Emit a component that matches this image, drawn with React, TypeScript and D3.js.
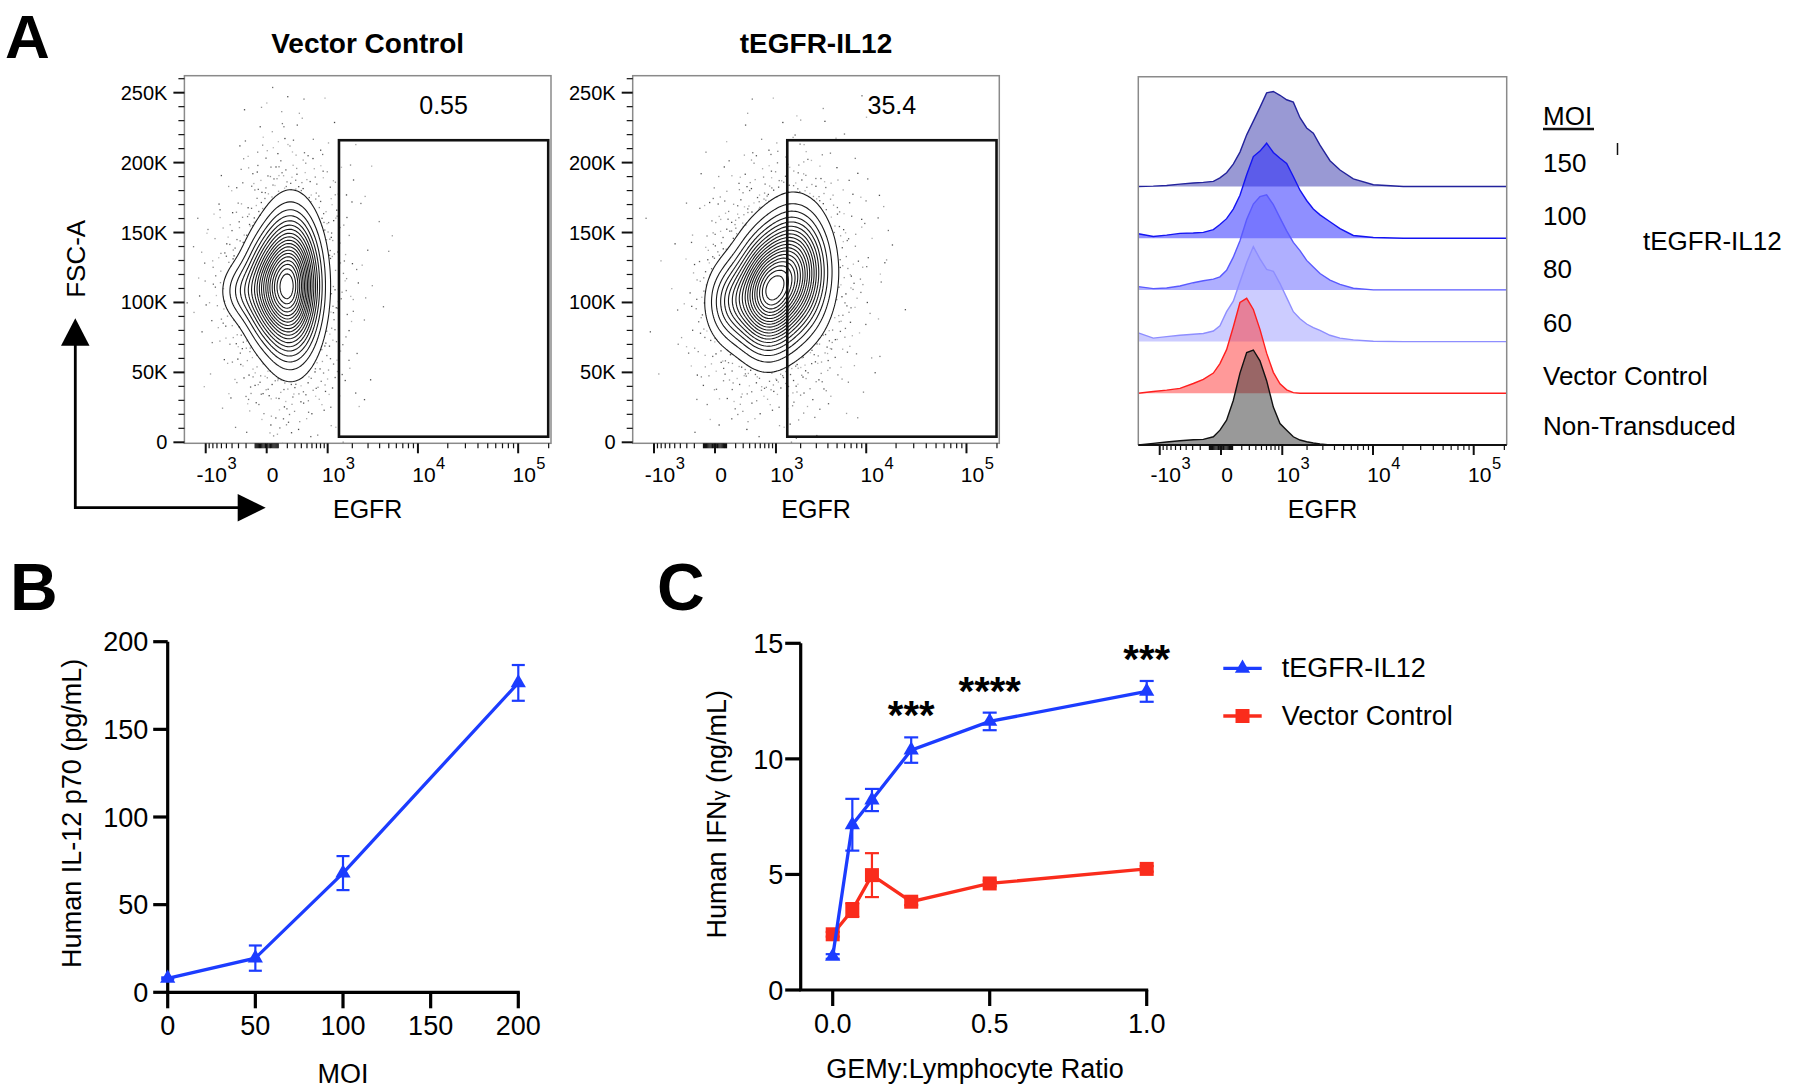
import React from "react";
import * as d3 from "d3";

const FONT = "'Liberation Sans', Arial, Helvetica, sans-serif";

// ---------------- Panel A : axes ----------------
const SYM_C = 335;
const EGFR_DOMAIN = [-1830, 210900];
const FSC_MAX = 262144;
const FSC_TICKS = [0, 50000, 100000, 150000, 200000, 250000];
const FSC_TICK_LABELS = ["0", "50K", "100K", "150K", "200K", "250K"];
const EGFR_TICKS = [-1000, 0, 1000, 10000, 100000];
const EGFR_TICK_BASE = ["-10", "0", "10", "10", "10"];
const EGFR_TICK_EXP = ["3", "", "3", "4", "5"];

// gates
const GATE_EGFR = [1390, 198000];
const GATE_FSC = [4000, 216000];
const GATE_PERCENT = ["0.55", "35.4"];
const CONTOUR_TITLES = ["Vector Control", "tEGFR-IL12"];

// population density components (EGFR value, FSC value, spread in biex units / FSC units)
const VC_EGFR = [246, 0, -275];
const VC_FSC = [112000, 110000, 108000];
const VC_EGFR_SD = [0.38, 0.35, 0.3];
const VC_FSC_SD = [29000, 22000, 13000];
const VC_WEIGHT = [1, 0.4, 0.13];

const IL12_EGFR = [723, 1700, 140];
const IL12_FSC = [105000, 122000, 100000];
const IL12_EGFR_SD = [0.42, 0.46, 0.35];
const IL12_FSC_SD = [24000, 26000, 18000];
const IL12_WEIGHT = [1, 0.85, 0.3];

// histograms (modal %, read at EGFR bins)
const HIST_EGFR = [-1830, -1209, -807, -511, -291, -164, -63, -8, 45, 107, 179, 263, 360, 472, 603, 756, 933, 1139, 1378, 1656, 1980, 2355, 2792, 3584, 4577, 6299, 10084, 20170, 210000];
const HIST_MOI150 = [0, 1, 3, 7, 10, 12, 15, 25, 40, 65, 100, 150, 190, 230, 272, 276, 265, 252, 245, 200, 170, 155, 120, 75, 48, 22, 5, 0, 0];
const HIST_MOI100 = [13, 5, 9, 14, 15, 17, 25, 40, 57, 85, 125, 185, 238, 254, 277, 250, 233, 218, 180, 140, 110, 85, 68, 48, 28, 8, 2, 0, 0];
const HIST_MOI80 = [10, 4, 6, 12, 22, 28, 33, 40, 60, 100, 150, 215, 262, 285, 290, 260, 220, 180, 145, 120, 90, 70, 50, 30, 17, 5, 0, 0, 0];
const HIST_MOI60 = [25, 10, 14, 18, 21, 23, 30, 45, 85, 115, 170, 225, 270, 235, 205, 200, 165, 125, 85, 65, 50, 40, 32, 18, 10, 5, 1, 0, 0];
const HIST_VC = [0, 5, 9, 14, 28, 40, 58, 85, 125, 190, 260, 272, 240, 183, 115, 60, 27, 10, 2, 0, 0, 0, 0, 0, 0, 0, 0, 0, 0];
const HIST_NT = [0, 5, 9, 13, 16, 17, 25, 45, 75, 135, 218, 280, 288, 255, 195, 115, 65, 45, 25, 15, 10, 6, 3, 0, 0, 0, 0, 0, 0];
const HIST_LABELS = ["150", "100", "80", "60", "Vector Control", "Non-Transduced"];

// ---------------- Panel B ----------------
const B_MOI = [0, 50, 100, 200];
const B_IL12 = [8.0, 19.5, 68.0, 176.5];
const B_SEM = [0.5, 7.2, 9.7, 10.2];
const B_X_TICKS = [0, 50, 100, 150, 200];
const B_Y_TICKS = [0, 50, 100, 150, 200];

// ---------------- Panel C ----------------
const C_RATIO = [0, 0.0625, 0.125, 0.25, 0.5, 1.0];
const C_IL12_MEAN = [1.45, 7.15, 8.22, 10.38, 11.62, 12.92];
const C_IL12_SEM = [0.1, 1.12, 0.48, 0.55, 0.38, 0.45];
const C_VC_MEAN = [2.41, 3.46, 4.97, 3.82, 4.61, 5.24];
const C_VC_SEM = [0.1, 0.3, 0.95, 0.15, 0.12, 0.12];
const C_STARS = ["", "", "", "***", "****", "***"];
const C_X_TICKS = [0, 0.5, 1.0];
const C_X_LABELS = ["0.0", "0.5", "1.0"];
const C_Y_TICKS = [0, 5, 10, 15];
const C_LEGEND = ["tEGFR-IL12", "Vector Control"];

// ---------------- styles ----------------
const BLUE = "#1c3cff";
const RED = "#fa2c1c";
const HIST_STROKE = ["#23239c", "#1414f2", "#5a5aff", "#8e8eff", "#ff1e1e", "#111111"];
const HIST_FILL = ["#3333aa", "#2020ff", "#6060ff", "#9a9aff", "#ff3434", "#333333"];

const tr = (v: number) => Math.sign(v) * Math.log1p(Math.abs(v) / SYM_C);
function halton(i: number, b: number) {
  let f = 1, r = 0;
  while (i > 0) { f /= b; r += f * (i % b); i = Math.floor(i / b); }
  return r;
}
const CW: Record<string, number> = { "-": 0.333, ".": 0.278, K: 0.667 };
const textW = (s: string, size: number) => s.split("").reduce((a, c) => a + (CW[c] ?? 0.556), 0) * size;

const egfrMinor = [
  ...d3.range(-900, -99, 100), ...d3.range(-90, 0, 10), ...d3.range(10, 100, 10),
  ...d3.range(100, 1000, 100), ...d3.range(2000, 10000, 1000), ...d3.range(20000, 100000, 10000), 200000,
];
const fscMinor = d3.range(10000, 261000, 10000).filter((v) => v % 50000 !== 0);

function LogLabel({ x, y, base, exp }: { x: number; y: number; base: string; exp: string }) {
  const cx = x + 6;
  const fs = 21;
  const bw = textW(base, fs);
  return (
    <g>
      <text x={cx} y={y} fontSize={fs} textAnchor="middle">{base}</text>
      {exp && <text x={cx + bw / 2 + 0.5} y={y - 13} fontSize={16.5}>{exp}</text>}
    </g>
  );
}

function EgfrAxis({ xS, y }: { xS: any; y: number }) {
  return (
    <g>
      {egfrMinor.map((v, i) => (
        <line key={"m" + i} x1={xS(v)} x2={xS(v)} y1={y} y2={y + 5} stroke="#111" strokeWidth={1.2} />
      ))}
      {EGFR_TICKS.map((v, i) => (
        <line key={"M" + i} x1={xS(v)} x2={xS(v)} y1={y} y2={y + 10} stroke="#111" strokeWidth={2} />
      ))}
      {EGFR_TICKS.map((v, i) => (
        <LogLabel key={"L" + i} x={xS(v)} y={482} base={EGFR_TICK_BASE[i]} exp={EGFR_TICK_EXP[i]} />
      ))}
    </g>
  );
}

function ContourPlot(props: {
  id: string; x0: number; y0: number; w: number; h: number;
  egfr: number[]; fsc: number[]; egfrSd: number[]; fscSd: number[]; weight: number[];
  title: string; pct: string;
}) {
  const { id, x0, y0, w, h, egfr, fsc, egfrSd, fscSd, weight, title, pct } = props;
  const xS = d3.scaleSymlog().constant(SYM_C).domain(EGFR_DOMAIN).range([x0, x0 + w]);
  const yS = d3.scaleLinear().domain([0, FSC_MAX]).range([y0 + h - 1, y0]);
  const tc = egfr.map(tr);
  const dens = (t: number, f: number, k = 1) => {
    let s = 0;
    for (let c = 0; c < tc.length; c++) {
      const a = (t - tc[c]) / (egfrSd[c] * k);
      const b = (f - fsc[c]) / (fscSd[c] * k);
      s += weight[c] * Math.exp(-0.5 * (a * a + b * b));
    }
    return s;
  };
  const step = 2;
  const nx = Math.ceil(w / step), ny = Math.ceil(h / step);
  const colT = d3.range(nx).map((i) => tr(xS.invert(x0 + (i + 0.5) * step)));
  const rowF = d3.range(ny).map((j) => yS.invert(y0 + (j + 0.5) * step));
  const vals = new Array(nx * ny);
  let maxB = 0;
  for (let j = 0; j < ny; j++) for (let i = 0; i < nx; i++) {
    vals[j * nx + i] = dens(colT[i], rowF[j]);
    const b = dens(colT[i], rowF[j], 1.8);
    if (b > maxB) maxB = b;
  }
  const sorted = vals.slice().sort((a, b) => b - a);
  const total = d3.sum(sorted);
  const levels: number[] = [];
  let cum = 0, q = 1;
  for (let i = 0; i < sorted.length && q <= 19; i++) {
    cum += sorted[i];
    while (q <= 19 && cum / total >= q * 0.05) { levels.push(sorted[i]); q++; }
  }
  const contours = d3.contours().size([nx, ny]).thresholds(levels.slice().sort((a, b) => a - b))(vals);
  const proj = d3.geoTransform({
    point(x: number, y: number) { (this as any).stream.point(x0 + x * step, y0 + y * step); },
  });
  const path = d3.geoPath(proj as any);
  const outer = d3.min(levels) as number;
  const dots: [number, number, number][] = [];
  for (let i = 1; i <= 16000; i++) {
    const px = x0 + halton(i, 2) * w;
    const py = y0 + halton(i, 3) * h;
    const t = tr(xS.invert(px));
    const f = yS.invert(py);
    if (dens(t, f) >= outer) continue;
    const b = dens(t, f, 1.8) / maxB;
    if (halton(i, 5) < b * 0.8) dots.push([px, py, halton(i, 7)]);
  }
  const gx0 = xS(GATE_EGFR[0]), gx1 = xS(GATE_EGFR[1]);
  const gy0 = yS(GATE_FSC[1]), gy1 = yS(GATE_FSC[0]);
  return (
    <g>
      <defs>
        <clipPath id={id}><rect x={x0} y={y0} width={w} height={h} /></clipPath>
      </defs>
      <text x={x0 + w / 2} y={y0 - 22.3} fontSize={28} fontWeight="bold" textAnchor="middle">{title}</text>
      <g clipPath={`url(#${id})`}>
        {dots.map((d, i) => (
          <rect key={i} x={d[0]} y={d[1]} width={1.3} height={1.3} fill="#222" opacity={0.3 + 0.55 * d[2]} />
        ))}
        {contours.map((c, i) => (
          <path key={i} d={path(c as any) || ""} fill="none" stroke="#1a1a1a" strokeWidth={1.1} />
        ))}
      </g>
      <rect x={x0} y={y0} width={w} height={h} fill="none" stroke="#8a8a8a" strokeWidth={1.5} />
      <rect x={gx0} y={gy0} width={gx1 - gx0} height={gy1 - gy0} fill="none" stroke="#111" strokeWidth={2.6} />
      <text x={(gx0 + gx1) / 2} y={gy0 - 26} fontSize={25} textAnchor="middle">{pct}</text>
      {fscMinor.map((v, i) => (
        <line key={"fm" + i} x1={x0 - 6} x2={x0} y1={yS(v)} y2={yS(v)} stroke="#111" strokeWidth={1.2} />
      ))}
      {FSC_TICKS.map((v, i) => (
        <g key={"ft" + i}>
          <line x1={x0 - 11} x2={x0} y1={yS(v)} y2={yS(v)} stroke="#111" strokeWidth={2} />
          <text x={x0 - 17} y={yS(v) + 7} fontSize={20} textAnchor="end">{FSC_TICK_LABELS[i]}</text>
        </g>
      ))}
      <EgfrAxis xS={xS} y={y0 + h} />
      <text x={x0 + w / 2} y={518} fontSize={25} textAnchor="middle">EGFR</text>
    </g>
  );
}

function Histograms() {
  const x0 = 1138.3, x1 = 1506.7, top = 76.7, bottom = 445;
  const xS = d3.scaleSymlog().constant(SYM_C).domain(EGFR_DOMAIN).range([x0, x1]);
  const series = [HIST_MOI150, HIST_MOI100, HIST_MOI80, HIST_MOI60, HIST_VC, HIST_NT];
  const spacing = 51.7, peakH = 95;
  const labelY = [171.7, 225, 278.3, 331.7, 385, 435];
  return (
    <g>
      {series.map((s, k) => {
        const base = bottom - (series.length - 1 - k) * spacing;
        const m = d3.max(s) as number;
        const pts = HIST_EGFR.map((e, i) => [xS(e), base - (s[i] / m) * peakH] as [number, number]);
        const area = d3.area<[number, number]>().x((d) => d[0]).y0(base).y1((d) => d[1])(pts) || "";
        const line = d3.line()(pts) || "";
        return (
          <g key={k}>
            <path d={area} fill={HIST_FILL[k]} fillOpacity={0.5} />
            <path d={line} fill="none" stroke={HIST_STROKE[k]} strokeWidth={1.4} />
          </g>
        );
      })}
      <path d={`M${x0},${bottom}V${top}H${x1}V${bottom}`} fill="none" stroke="#8a8a8a" strokeWidth={1.5} />
      <line x1={x0} x2={x1} y1={bottom} y2={bottom} stroke="#111" strokeWidth={2} />
      <EgfrAxis xS={xS} y={bottom} />
      <text x={(x0 + x1) / 2} y={518} fontSize={25} textAnchor="middle">EGFR</text>
      <text x={1543} y={125} fontSize={26}>MOI</text>
      <line x1={1543} x2={1594} y1={129} y2={129} stroke="#111" strokeWidth={2.6} />
      <line x1={1617.5} x2={1617.5} y1={143} y2={155} stroke="#111" strokeWidth={1.5} />
      {HIST_LABELS.map((l, i) => (
        <text key={i} x={1543} y={labelY[i]} fontSize={26}>{l}</text>
      ))}
      <text x={1643} y={250} fontSize={26}>tEGFR-IL12</text>
    </g>
  );
}

function PanelB() {
  const xS = d3.scaleLinear().domain([0, 200]).range([167.7, 518.3]);
  const yS = d3.scaleLinear().domain([0, 200]).range([992.3, 641.7]);
  const pts = B_MOI.map((m, i) => [xS(m), yS(B_IL12[i])] as [number, number]);
  const tri = d3.symbol(d3.symbolTriangle, 100)() || "";
  return (
    <g>
      <line x1={xS(0)} x2={xS(0)} y1={yS(200)} y2={yS(0)} stroke="#000" strokeWidth={3.2} />
      <line x1={xS(0) - 1.5} x2={xS(200) + 1.5} y1={yS(0)} y2={yS(0)} stroke="#000" strokeWidth={3.2} />
      {B_X_TICKS.map((v, i) => (
        <g key={"x" + i}>
          <line x1={xS(v)} x2={xS(v)} y1={yS(0)} y2={yS(0) + 16} stroke="#000" strokeWidth={3.2} />
          <text x={xS(v)} y={1035} fontSize={27} textAnchor="middle">{v}</text>
        </g>
      ))}
      {B_Y_TICKS.map((v, i) => (
        <g key={"y" + i}>
          <line x1={xS(0) - 14.5} x2={xS(0)} y1={yS(v)} y2={yS(v)} stroke="#000" strokeWidth={3.2} />
          <text x={xS(0) - 19.5} y={yS(v) + 9.7} fontSize={27} textAnchor="end">{v}</text>
        </g>
      ))}
      <path d={d3.line()(pts) || ""} fill="none" stroke={BLUE} strokeWidth={3.3} />
      {B_MOI.map((m, i) => {
        const x = xS(m), yt = yS(B_IL12[i] + B_SEM[i]), yb = yS(B_IL12[i] - B_SEM[i]);
        return (
          <g key={"e" + i} stroke={BLUE} strokeWidth={2.2}>
            <line x1={x} x2={x} y1={yt} y2={yb} />
            <line x1={x - 6.5} x2={x + 6.5} y1={yt} y2={yt} />
            <line x1={x - 6.5} x2={x + 6.5} y1={yb} y2={yb} />
          </g>
        );
      })}
      {pts.map((p, i) => (
        <path key={"m" + i} d={tri} transform={`translate(${p[0]},${p[1]})`} fill={BLUE} />
      ))}
      <text x={xS(100)} y={1083} fontSize={27} textAnchor="middle">MOI</text>
      <text transform="translate(81,813.3) rotate(-90)" fontSize={27} textAnchor="middle">Human IL-12 p70 (pg/mL)</text>
    </g>
  );
}

function PanelC() {
  const xS = d3.scaleLinear().domain([-0.1, 1.0]).range([801.3, 1146.7]);
  const yS = d3.scaleLinear().domain([0, 15]).range([990, 643.3]);
  const tri = d3.symbol(d3.symbolTriangle, 100)() || "";
  const sq = d3.symbol(d3.symbolSquare, 196)() || "";
  const series = [
    { mean: C_VC_MEAN, sem: C_VC_SEM, color: RED, marker: sq },
    { mean: C_IL12_MEAN, sem: C_IL12_SEM, color: BLUE, marker: tri },
  ];
  const axX = 800.7;
  return (
    <g>
      <line x1={axX} x2={axX} y1={yS(15)} y2={yS(0)} stroke="#000" strokeWidth={3.2} />
      <line x1={axX - 1.5} x2={xS(1.0) + 1.5} y1={yS(0)} y2={yS(0)} stroke="#000" strokeWidth={3.2} />
      {C_X_TICKS.map((v, i) => (
        <g key={"x" + i}>
          <line x1={xS(v)} x2={xS(v)} y1={yS(0)} y2={yS(0) + 16} stroke="#000" strokeWidth={3.2} />
          <text x={xS(v)} y={1033.3} fontSize={27} textAnchor="middle">{C_X_LABELS[i]}</text>
        </g>
      ))}
      {C_Y_TICKS.map((v, i) => (
        <g key={"y" + i}>
          <line x1={axX - 15.5} x2={axX} y1={yS(v)} y2={yS(v)} stroke="#000" strokeWidth={3.2} />
          <text x={axX - 17.5} y={yS(v) + 9.7} fontSize={27} textAnchor="end">{v}</text>
        </g>
      ))}
      {series.map((s, k) => {
        const pts = C_RATIO.map((r, i) => [xS(r), yS(s.mean[i])] as [number, number]);
        return (
          <g key={k}>
            {C_RATIO.map((r, i) => {
              const x = xS(r), yt = yS(s.mean[i] + s.sem[i]), yb = yS(s.mean[i] - s.sem[i]);
              return (
                <g key={"e" + i} stroke={s.color} strokeWidth={2.2}>
                  <line x1={x} x2={x} y1={yt} y2={yb} />
                  <line x1={x - 7} x2={x + 7} y1={yt} y2={yt} />
                  <line x1={x - 7} x2={x + 7} y1={yb} y2={yb} />
                </g>
              );
            })}
            <path d={d3.line()(pts) || ""} fill="none" stroke={s.color} strokeWidth={3.3} />
            {pts.map((p, i) => (
              <path key={"m" + i} d={s.marker} transform={`translate(${p[0]},${p[1]})`} fill={s.color} />
            ))}
          </g>
        );
      })}
      {C_RATIO.map((r, i) =>
        C_STARS[i] ? (
          <text key={"s" + i} x={xS(r)} y={yS(C_IL12_MEAN[i] + C_IL12_SEM[i]) - 8} fontSize={40} fontWeight="bold" textAnchor="middle">
            {C_STARS[i]}
          </text>
        ) : null
      )}
      <text x={975} y={1078.3} fontSize={27} textAnchor="middle">GEMy:Lymphocyte Ratio</text>
      <text transform="translate(726,814.2) rotate(-90)" fontSize={27} textAnchor="middle">
        Human IFN<tspan fontSize={20}>γ</tspan> (ng/mL)
      </text>
      {[BLUE, RED].map((c, i) => {
        const ly = i === 0 ? 668.3 : 716;
        return (
          <g key={"lg" + i}>
            <line x1={1223.3} x2={1261.7} y1={ly} y2={ly} stroke={c} strokeWidth={3.3} />
            <path d={i === 0 ? tri : sq} transform={`translate(1242.5,${ly})`} fill={c} />
            <text x={1281.7} y={ly + 9} fontSize={27}>{C_LEGEND[i]}</text>
          </g>
        );
      })}
    </g>
  );
}

export default function App() {
  return (
    <svg
      width={1800}
      height={1092}
      viewBox="0 0 1800 1092"
      style={{ position: "absolute", left: 0, top: 0, background: "#fff" }}
      fontFamily={FONT}
    >
      <rect x={0} y={0} width={1800} height={1092} fill="#fff" />
      <text x={5} y={58} fontSize={62} fontWeight="bold">A</text>
      <text x={10} y={610} fontSize={66} fontWeight="bold">B</text>
      <text x={657} y={610} fontSize={66} fontWeight="bold">C</text>

      <g stroke="#000" strokeWidth={2.8} fill="#000">
        <line x1={75.3} x2={75.3} y1={509} y2={344} />
        <line x1={74} x2={239} y1={507.7} y2={507.7} />
        <path d="M61,345.8L89.5,345.8L75.3,318.3Z" stroke="none" />
        <path d="M237.7,494L237.7,521.4L265.7,507.7Z" stroke="none" />
      </g>
      <text transform="translate(85.3,258.8) rotate(-90)" fontSize={26} textAnchor="middle">FSC-A</text>

      <ContourPlot id="clipVC" x0={184.4} y0={75.7} w={366.6} h={367.6}
        egfr={VC_EGFR} fsc={VC_FSC} egfrSd={VC_EGFR_SD} fscSd={VC_FSC_SD} weight={VC_WEIGHT}
        title={CONTOUR_TITLES[0]} pct={GATE_PERCENT[0]} />
      <ContourPlot id="clipIL" x0={632.7} y0={75.7} w={366.6} h={367.6}
        egfr={IL12_EGFR} fsc={IL12_FSC} egfrSd={IL12_EGFR_SD} fscSd={IL12_FSC_SD} weight={IL12_WEIGHT}
        title={CONTOUR_TITLES[1]} pct={GATE_PERCENT[1]} />
      <Histograms />
      <PanelB />
      <PanelC />
    </svg>
  );
}
